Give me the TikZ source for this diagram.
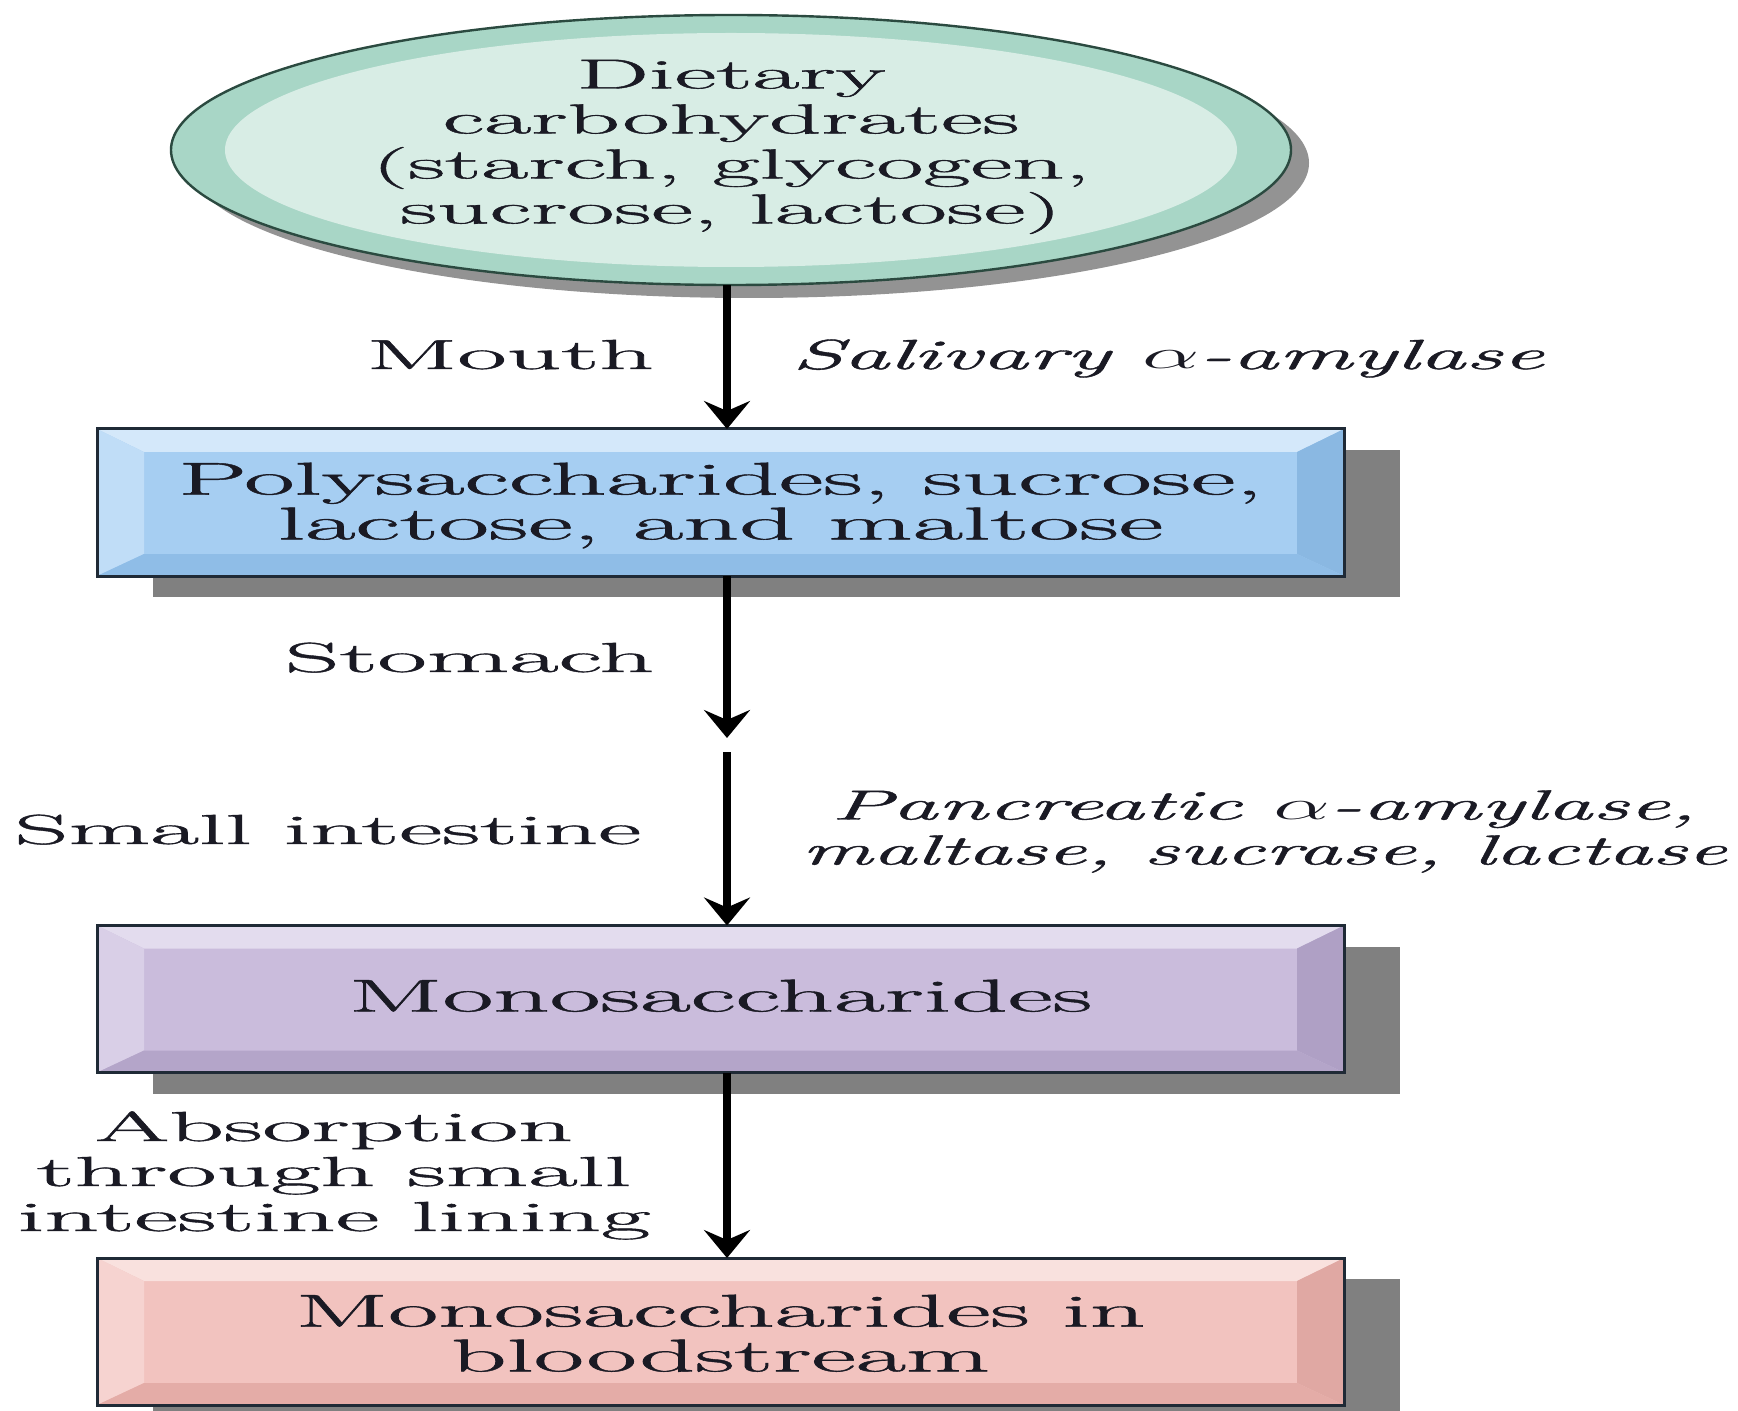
\documentclass[tikz,border=0pt]{standalone}
\usepackage{fontspec}
\setmainfont{Latin Modern Roman}[FakeBold=0.9]
\usepackage{graphicx}
\usetikzlibrary{arrows.meta,shapes.geometric,backgrounds,calc}
\definecolor{inkc}{HTML}{1A1A24}
\definecolor{shadowc}{HTML}{808080}
\definecolor{ellout}{HTML}{2B4A40}
\definecolor{ellband}{HTML}{A8D6C6}
\definecolor{ellface}{HTML}{D8EDE5}
\definecolor{boxout}{HTML}{1F2A36}
\definecolor{bface}{HTML}{A6CEF2}
\definecolor{btop}{HTML}{D4E8FA}
\definecolor{bleft}{HTML}{C0DDF7}
\definecolor{bright}{HTML}{8AB8E2}
\definecolor{bbot}{HTML}{8FBDE7}
\definecolor{pface}{HTML}{CABCDC}
\definecolor{ptop}{HTML}{E3DCEE}
\definecolor{pleft}{HTML}{D9CFE7}
\definecolor{pright}{HTML}{AFA0C5}
\definecolor{pbot}{HTML}{B4A5C9}
\definecolor{rface}{HTML}{F2C3BF}
\definecolor{rtop}{HTML}{F9E1DE}
\definecolor{rleft}{HTML}{F6D3D0}
\definecolor{rright}{HTML}{E0A8A3}
\definecolor{rbot}{HTML}{E4ACA7}
\newcommand\wtext[2][2.55]{\scalebox{#1}[1]{\begin{tabular}{@{}c@{}}#2\end{tabular}}}
\newcommand\shiftv[2]{\raisebox{#1}[\height][\depth]{#2}}
\newcommand\bevelbox[6]{%
  \fill[shadowc] ($(#1.north west)+(56,21)$) rectangle ($(#1.south east)+(56,21)$);
  \fill[#2] (#1.north west) rectangle (#1.south east);
  \fill[#3] (#1.north west) -- (#1.north east) -- ($(#1.north east)+(-47,23)$) -- ($(#1.north west)+(47,23)$) -- cycle;
  \fill[#4] (#1.north west) -- ($(#1.north west)+(47,23)$) -- ($(#1.south west)+(47,-22)$) -- (#1.south west) -- cycle;
  \fill[#5] (#1.north east) -- ($(#1.north east)+(-47,23)$) -- ($(#1.south east)+(-47,-22)$) -- (#1.south east) -- cycle;
  \fill[#6] (#1.south west) -- ($(#1.south west)+(47,-22)$) -- ($(#1.south east)+(-47,-22)$) -- (#1.south east) -- cycle;
}
\begin{document}
\begin{tikzpicture}[x=0.5pt,y=-0.5pt,
  txt/.style={font=\fontsize{21}{22.5}\selectfont, text=inkc, inner sep=0pt, outer sep=0pt},
  boxn/.style={txt, font=\fontsize{23}{21.5}\selectfont, rectangle, draw=boxout, line width=1.5pt, minimum width=623.5pt, minimum height=73.5pt},
  arr/.style={draw=black, line width=3.6pt, -{Stealth[length=14pt,width=23pt,inset=5pt]}},
]
\clip (0,0) rectangle (1738,1411);
\useasboundingbox (0,0) rectangle (1738,1411);

\node[txt, ellipse, draw=ellout, line width=1.2pt, minimum width=560pt, minimum height=135pt] (e) at (731,150)
  {\shiftv{1.5pt}{\wtext[2.44]{Dietary\\carbohydrates\\(starch, glycogen,\\sucrose, lactose)}}};

\node[boxn] (b1) at (720.5,502.5) {\shiftv{-2.5pt}{\wtext[2.38]{Polysaccharides, sucrose,\\lactose, and maltose}}};
\node[boxn] (b2) at (720.5,999) {\shiftv{-1.5pt}{\wtext[2.4]{Monosaccharides}}};
\node[boxn] (b3) at (720.5,1331.5) {\shiftv{-4pt}{\wtext[2.37]{Monosaccharides in\\bloodstream}}};

\node[txt, anchor=east] (lm) at (654,360) {\wtext{Mouth}};
\node[txt, anchor=west] (ls) at (792,360) {\wtext[2.2]{\itshape Salivary $\alpha$-amylase}};
\node[txt, anchor=east] (lst) at (654,663) {\wtext{Stomach}};
\node[txt, anchor=east] (lsi) at (641,835) {\wtext[2.52]{Small intestine}};
\node[txt] (lp) at (1264,833) {\begin{tabular}{@{}c@{}}\scalebox{2.17}[1]{\itshape Pancreatic $\alpha$-amylase,}\\\scalebox{2.1}[1]{\itshape maltase, sucrase, lactase}\end{tabular}};
\node[txt] (la) at (334,1177) {\wtext{Absorption\\through small\\intestine lining}};

\coordinate (ax) at (727,0);
\coordinate (c1) at (727,738);
\coordinate (c2) at (727,752);
\draw[arr] (e.south -| ax) -- (b1.north -| ax);
\draw[arr] (b1.south -| ax) -- (c1);
\draw[arr] (c2) -- (b2.north -| ax);
\draw[arr] (b2.south -| ax) -- (b3.north -| ax);

\begin{scope}[on background layer]
  \fill[white] (0,0) rectangle (1738,1411);
  \fill[shadowc!85] ($(e.center)+(18,13)$) ellipse [x radius=280pt, y radius=67.5pt];
  \fill[ellband] (e.center) ellipse [x radius=280pt, y radius=67.5pt];
  \fill[ellface] (e.center) ellipse [x radius=253pt, y radius=58.5pt];
  \bevelbox{b1}{bface}{btop}{bleft}{bright}{bbot}
  \bevelbox{b2}{pface}{ptop}{pleft}{pright}{pbot}
  \bevelbox{b3}{rface}{rtop}{rleft}{rright}{rbot}
\end{scope}
\end{tikzpicture}
\end{document}
